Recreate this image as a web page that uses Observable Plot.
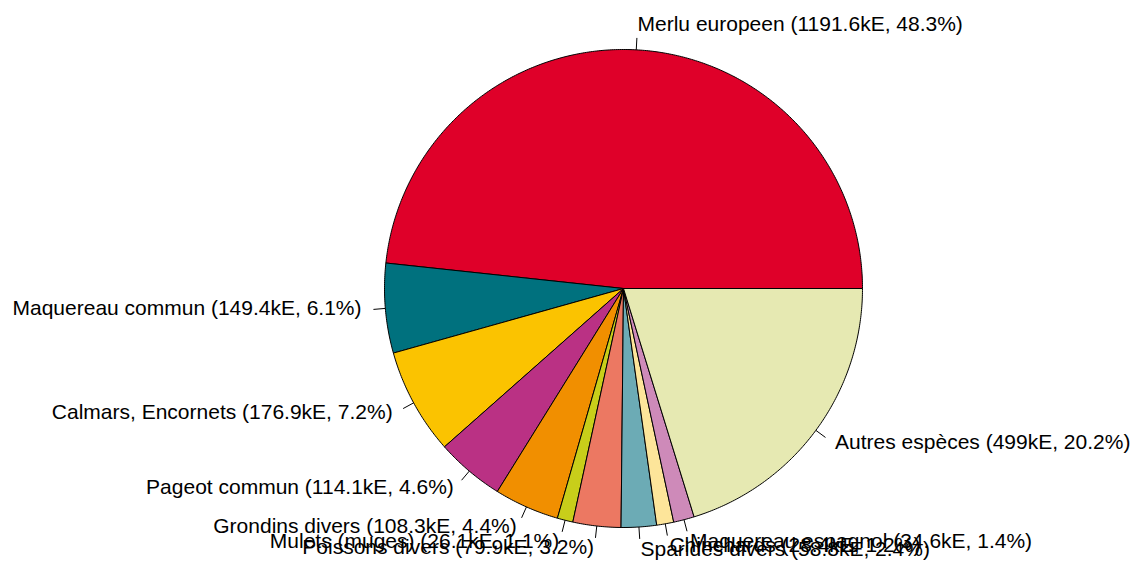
<!DOCTYPE html>
<html>
<head>
<meta charset="utf-8">
<script src="https://cdn.jsdelivr.net/npm/d3@7"></script>
<script src="https://cdn.jsdelivr.net/npm/@observablehq/plot@0.6"></script>
<style>
  html, body { margin: 0; padding: 0; background: #fff; }
  #chart svg { display: block; }
</style>
</head>
<body>
<div id="chart"></div>
<script>
const names = ["Merlu europeen", "Maquereau commun", "Calmars, Encornets", "Pageot commun",
  "Grondins divers", "Mulets (muges)", "Poissons divers", "Sparides divers",
  "Chinchards", "Maquereau espagnol", "Autres espèces"];
const values = [1191.6, 149.4, 176.9, 114.1, 108.3, 26.1, 79.9, 58.8, 28.4, 34.6, 499];
const pcts = [48.3, 6.1, 7.2, 4.6, 4.4, 1.1, 3.2, 2.4, 1.2, 1.4, 20.2];
const colors = ["#DF0029", "#00717E", "#FBC300", "#BA3184", "#F18F00", "#C8CE1A",
  "#EC7862", "#6CABB5", "#FDE59A", "#CE8AB9", "#E6E9B2"];

const total = d3.sum(values);
let cum = 0;
const slices = names.map((name, i) => {
  const a0 = cum / total * 2 * Math.PI;
  cum += values[i];
  const a1 = cum / total * 2 * Math.PI;
  const mid = (a0 + a1) / 2;
  return {name, a0, a1, mid,
    label: `${name} (${values[i]}kE, ${pcts[i]}%)`,
    cx: Math.cos(mid), cy: Math.sin(mid)};
});

const poly = [];
for (const s of slices) {
  const n = Math.max(2, Math.ceil((s.a1 - s.a0) / (2 * Math.PI) * 720));
  poly.push({name: s.name, x: 0, y: 0});
  for (let k = 0; k <= n; k++) {
    const a = s.a0 + (s.a1 - s.a0) * k / n;
    poly.push({name: s.name, x: Math.cos(a), y: Math.sin(a)});
  }
  poly.push({name: s.name, x: 0, y: 0});
}

const R = 239, cxp = 623, cyp = 288;
const chart = Plot.plot({
  width: 1141,
  height: 563,
  margin: 0,
  x: {domain: [-1, 1], range: [cxp - R, cxp + R], axis: null},
  y: {domain: [-1, 1], range: [cyp + R, cyp - R], axis: null},
  color: {domain: names, range: colors},
  style: {fontFamily: "Arial, 'Liberation Sans', sans-serif", fontSize: "21px", background: "white", overflow: "visible"},
  marks: [
    Plot.line(poly, {x: "x", y: "y", z: "name", fill: "name", stroke: "black", strokeWidth: 1, curve: "linear"}),
    Plot.link(slices, {x1: d => d.cx, y1: d => d.cy, x2: d => 1.05 * d.cx, y2: d => 1.05 * d.cy, stroke: "black", strokeWidth: 1}),
    Plot.text(slices.filter(d => d.cx >= 0), {x: d => 1.1 * d.cx, y: d => 1.1 * d.cy, text: "label", textAnchor: "start", fill: "black", fontSize: 21, dy: -2}),
    Plot.text(slices.filter(d => d.cx < 0), {x: d => 1.1 * d.cx, y: d => 1.1 * d.cy, text: "label", textAnchor: "end", fill: "black", fontSize: 21, dy: -2})
  ]
});
document.getElementById("chart").appendChild(chart);
</script>
</body>
</html>
